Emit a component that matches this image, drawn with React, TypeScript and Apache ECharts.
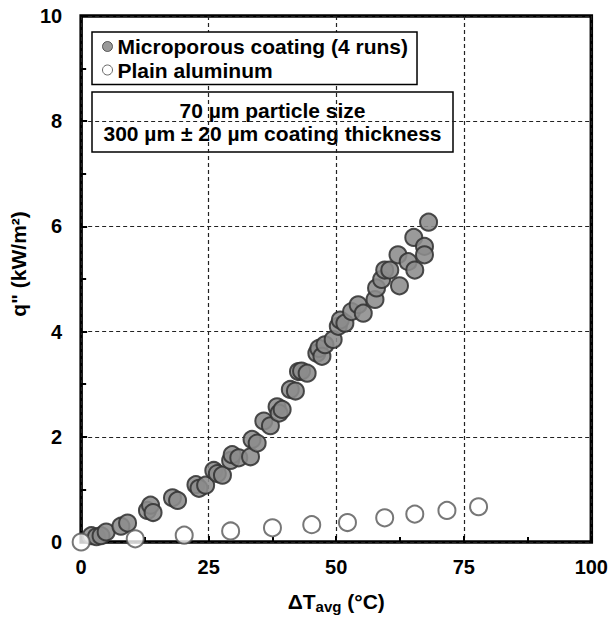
import React, { useEffect, useRef } from "react";
import * as echarts from "echarts";

// Microporous coating, four runs combined: wall superheat (°C) and heat flux (kW/m²)
const coatingDT = [
  2.0, 3.0, 3.9, 4.9, 7.8, 9.1, 13.0, 13.6, 14.1, 17.9, 18.9, 22.5, 23.1, 24.4,
  26.0, 26.7, 27.7, 29.3, 29.6, 30.9, 33.2, 33.5, 34.5, 35.8, 37.1, 38.4, 38.8,
  39.4, 41.0, 42.0, 42.6, 43.2, 44.3, 46.2, 46.6, 47.2, 47.8, 49.4, 50.4, 50.8,
  51.7, 53.0, 54.3, 55.3, 57.6, 57.9, 58.9, 59.5, 60.5, 62.1, 62.4, 64.1, 65.4,
  65.2, 67.3, 67.3, 68.1,
];
const coatingQ = [
  0.12, 0.1, 0.12, 0.19, 0.3, 0.36, 0.6, 0.7, 0.56, 0.84, 0.79, 1.09, 1.02, 1.08,
  1.36, 1.3, 1.27, 1.55, 1.66, 1.6, 1.62, 1.95, 1.88, 2.3, 2.21, 2.57, 2.45,
  2.52, 2.9, 2.87, 3.24, 3.25, 3.21, 3.59, 3.68, 3.53, 3.75, 3.85, 4.1, 4.22,
  4.16, 4.38, 4.51, 4.35, 4.61, 4.83, 4.99, 5.17, 5.17, 5.46, 4.87, 5.33, 5.17,
  5.79, 5.62, 5.46, 6.08,
];

// Plain aluminum surface
const plainDT = [0, 10.6, 20.2, 29.3, 37.5, 45.2, 52.2, 59.5, 65.4, 71.7, 77.9];
const plainQ = [0, 0.06, 0.13, 0.21, 0.27, 0.33, 0.37, 0.46, 0.53, 0.6, 0.67];

const seriesNames = ["Microporous coating (4 runs)", "Plain aluminum"];
const noteLines = ["70 µm particle size", "300 µm ± 20 µm coating thickness"];

const FONT = 'Arial, "Liberation Sans", Helvetica, sans-serif';

export default function App() {
  const ref = useRef<HTMLDivElement>(null);

  useEffect(() => {
    if (!ref.current) return;
    const chart = echarts.init(ref.current, null, { renderer: "svg" });

    const coatingData = coatingDT.map((x, i) => [x, coatingQ[i]]);
    const plainData = plainDT.map((x, i) => [x, plainQ[i]]);

    const labelStyle = {
      color: "#000",
      fontWeight: "bold" as const,
      fontSize: 20,
      fontFamily: FONT,
    };
    const gridLine = {
      show: true,
      lineStyle: { color: "#222", width: 1.2, type: [4, 3] as number[] },
    };
    const tickStyle = { color: "#000", width: 2 };

    chart.setOption({
      animation: false,
      backgroundColor: "#fff",
      grid: {
        left: 80,
        right: 18,
        top: 16,
        bottom: 76,
        show: true,
        borderColor: "#000",
        borderWidth: 3.5,
        backgroundColor: "transparent",
      },
      legend: {
        orient: "vertical",
        left: 92,
        top: 32,
        itemWidth: 10,
        itemHeight: 10,
        itemGap: 0.5,
        padding: [3, 9, 3, 10],
        borderColor: "#000",
        borderWidth: 1.5,
        backgroundColor: "#fff",
        textStyle: {
          color: "#000",
          fontWeight: "bold",
          fontSize: 21,
          fontFamily: FONT,
          lineHeight: 23,
        },
        data: [
          {
            name: seriesNames[0],
            icon: "circle",
            itemStyle: { color: "#8c8c8c", borderColor: "#444", borderWidth: 1 },
          },
          {
            name: seriesNames[1],
            icon: "circle",
            itemStyle: { color: "#fff", borderColor: "#444", borderWidth: 1 },
          },
        ],
      },
      xAxis: {
        type: "value",
        min: 0,
        max: 100,
        interval: 25,
        axisLine: { show: false },
        axisTick: { show: true, inside: true, length: 6, lineStyle: tickStyle },
        minorTick: { show: true, splitNumber: 2, length: 5, lineStyle: tickStyle },
        axisLabel: { ...labelStyle, margin: 15 },
        splitLine: gridLine,
        name: "{a|ΔT}{s|avg}{a| (°C)}",
        nameLocation: "middle",
        nameGap: 47,
        nameTextStyle: {
          rich: {
            a: { ...labelStyle, fontSize: 21 },
            s: { ...labelStyle, fontSize: 15, padding: [10, 0, 0, 0] },
          },
        },
      },
      yAxis: {
        type: "value",
        min: 0,
        max: 10,
        interval: 2,
        axisLine: { show: false },
        axisTick: { show: true, inside: true, length: 6, lineStyle: tickStyle },
        minorTick: { show: true, splitNumber: 2, length: 5, lineStyle: tickStyle },
        axisLabel: { ...labelStyle, margin: 19 },
        splitLine: gridLine,
        name: 'q" (kW/m²)',
        nameLocation: "middle",
        nameGap: 30,
        nameTextStyle: { ...labelStyle, fontSize: 21, padding: [0, 0, 0, 30] },
      },
      graphic: [
        {
          type: "group",
          z: 100,
          children: [
            {
              type: "rect",
              shape: { x: 92, y: 92, width: 361, height: 60 },
              style: { fill: "#fff", stroke: "#000", lineWidth: 1.5 },
            },
            {
              type: "text",
              x: 272.5,
              y: 122,
              style: {
                text: noteLines.join("\n"),
                align: "center",
                verticalAlign: "middle",
                fill: "#000",
                fontWeight: "bold",
                fontSize: 21,
                fontFamily: FONT,
                lineHeight: 23.5,
              },
            },
          ],
        },
      ],
      series: [
        {
          name: seriesNames[0],
          type: "scatter",
          symbol: "circle",
          symbolSize: 17,
          data: coatingData,
          itemStyle: {
            color: "#8c8c8c",
            opacity: 0.88,
            borderColor: "#333",
            borderWidth: 2,
          },
          z: 3,
        },
        {
          name: seriesNames[1],
          type: "scatter",
          symbol: "circle",
          symbolSize: 17,
          data: plainData,
          clip: false,
          itemStyle: {
            color: "#fff",
            borderColor: "#555",
            borderWidth: 2,
          },
          z: 4,
        },
      ],
    });

    return () => chart.dispose();
  }, []);

  return <div ref={ref} style={{ width: 611, height: 619, position: "absolute", left: 0, top: 0 }} />;
}
